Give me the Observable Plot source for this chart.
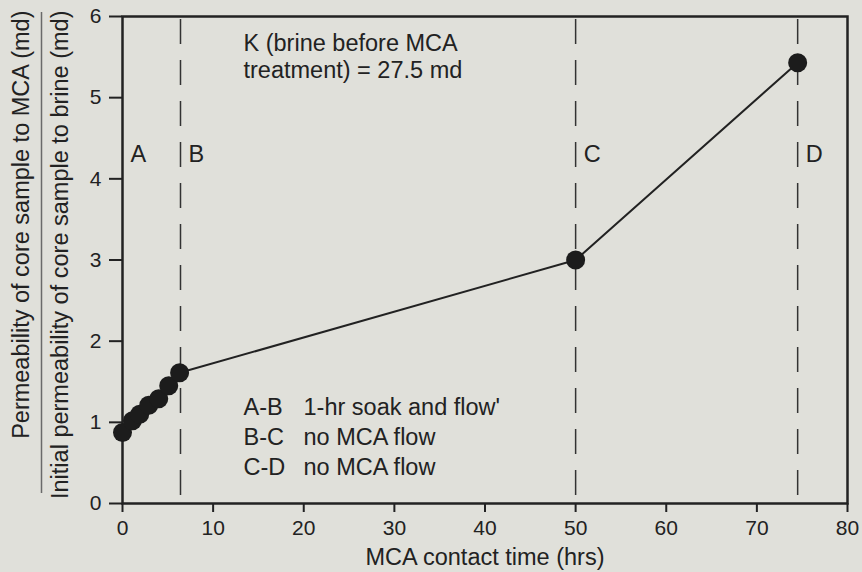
<!DOCTYPE html>
<html>
<head>
<meta charset="utf-8">
<script src="https://cdn.jsdelivr.net/npm/d3@7"></script>
<script src="https://cdn.jsdelivr.net/npm/@observablehq/plot@0.6"></script>
<style>
  html, body { margin: 0; padding: 0; background: #e0e0da; }
  #chart { width: 862px; height: 572px; }
</style>
</head>
<body>
<div id="chart"></div>
<script>
// ---- data ----
const time  = [0, 1.1, 1.9, 2.9, 4.0, 5.1, 6.3, 50, 74.5];
const ratio = [0.875, 1.02, 1.10, 1.21, 1.29, 1.45, 1.61, 3.0, 5.43];

const boundaryLabels = ["A", "B", "C", "D"];
const boundaryTimes  = [0, 6.4, 50, 74.5];

const xTicks = [0, 10, 20, 30, 40, 50, 60, 70, 80];
const yTicks = [0, 1, 2, 3, 4, 5, 6];

const xLabel = "MCA contact time (hrs)";
const yNumerator = "Permeability of core sample to MCA (md)";
const yDenominator = "Initial permeability of core sample to brine (md)";
const noteK = "K (brine before MCA\ntreatment) = 27.5 md";
const legendKeys = ["A-B", "B-C", "C-D"];
const legendTexts = ["1-hr soak and flow'", "no MCA flow", "no MCA flow"];

// ---- build ----
const points = time.map((t, i) => ({t, r: ratio[i]}));
const bounds = boundaryLabels.map((l, i) => ({label: l, t: boundaryTimes[i]}));
const ink = "#222";
const fs = 23.5;

const chart = Plot.plot({
  width: 862,
  height: 572,
  marginLeft: 122,
  marginRight: 15,
  marginTop: 16,
  marginBottom: 69,
  style: {background: "#e0e0da", fontFamily: "'Liberation Sans', Arial, Helvetica, sans-serif", color: ink, overflow: "visible"},
  x: {domain: [0, 80]},
  y: {domain: [0, 6]},
  marks: [
    // dashed segment boundaries
    Plot.ruleX(bounds.slice(1), {x: "t", stroke: "#333", strokeWidth: 1.5, strokeDasharray: "25,16", strokeDashoffset: 38}),
    // boundary labels
    Plot.text(bounds, {x: "t", text: "label", frameAnchor: "top", dx: 8, dy: 129, textAnchor: "start", lineAnchor: "top", fontSize: fs, fill: ink}),
    // axes
    Plot.axisX({ticks: xTicks, tickFormat: "d", tickSize: 9, tickPadding: 8, fontSize: 21, strokeWidth: 2, label: null, color: ink}),
    Plot.axisY({ticks: yTicks, tickFormat: "d", tickSize: 13, tickPadding: 8, fontSize: 21, strokeWidth: 2, label: null, color: ink}),
    Plot.frame({stroke: ink, strokeWidth: 2.5}),
    // x label
    Plot.text([xLabel], {frameAnchor: "bottom", dy: 45, lineAnchor: "top", fontSize: fs, fill: ink}),
    // y label as fraction
    Plot.text([yNumerator], {frameAnchor: "top-left", dx: -101, dy: -6, rotate: -90, textAnchor: "end", lineAnchor: "middle", fontSize: fs, fill: ink}),
    Plot.ruleX([0], {dx: -81, insetTop: -4, insetBottom: 10, stroke: "#6a6a6a", strokeWidth: 1.5}),
    Plot.text([yDenominator], {frameAnchor: "top-left", dx: -62, dy: -6, rotate: -90, textAnchor: "end", lineAnchor: "middle", fontSize: fs, fill: ink}),
    // notes
    Plot.text([noteK], {frameAnchor: "top-left", dx: 121, dy: 15, textAnchor: "start", lineAnchor: "top", lineHeight: 1.15, fontSize: fs, fill: ink}),
    Plot.text([legendKeys.join("\n")], {frameAnchor: "top-left", dx: 121, dy: 377, textAnchor: "start", lineAnchor: "top", lineHeight: 1.277, fontSize: fs, fill: ink}),
    Plot.text([legendTexts.join("\n")], {frameAnchor: "top-left", dx: 181, dy: 377, textAnchor: "start", lineAnchor: "top", lineHeight: 1.277, fontSize: fs, fill: ink}),
    // data
    Plot.line(points, {x: "t", y: "r", stroke: ink, strokeWidth: 2}),
    Plot.dot(points, {x: "t", y: "r", r: 9.5, fill: "#1c1c1c", stroke: "none"})
  ]
});
document.getElementById("chart").appendChild(chart);
</script>
</body>
</html>
